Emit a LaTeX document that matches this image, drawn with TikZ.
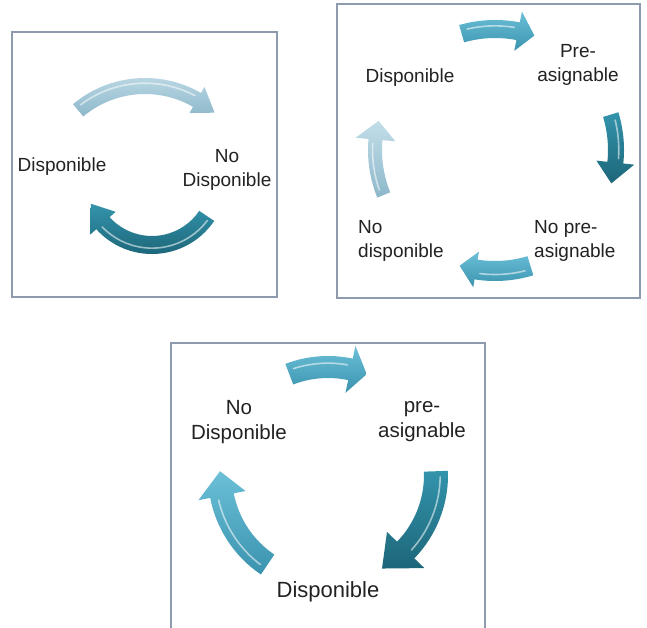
\documentclass[tikz,border=0pt]{standalone}
\usepackage{fontspec}
\setmainfont{Liberation Sans}
\usetikzlibrary{calc}

\definecolor{framegrey}{HTML}{8E9AAE}
\definecolor{textgrey}{HTML}{222222}
\definecolor{paletop}{HTML}{C2DDE8}
\definecolor{palebot}{HTML}{8DB8CA}
\definecolor{midtop}{HTML}{6CC0D8}
\definecolor{midbot}{HTML}{3A93AE}
\definecolor{darktop}{HTML}{3394AC}
\definecolor{darkbot}{HTML}{1D6679}

% bent block arrow on a circle:
% #1 centre, #2 radius, #3 tail angle, #4 head base angle, #5 half width,
% #6 head half width, #7 head length (deg), #8 shading options
\newcommand{\bentarrow}[8]{%
  \pgfmathsetmacro\ro{#2+#5}%
  \pgfmathsetmacro\ri{#2-#5}%
  \pgfmathsetmacro\ho{#2+#6}%
  \pgfmathsetmacro\hi{#2-#6}%
  \pgfmathsetmacro\tip{#4+#7}%
  \pgfmathsetmacro\gr{#2+0.35*#5}%
  \pgfmathsetmacro\ga{#3+3}%
  \pgfmathsetmacro\gb{#4-2}%
  \shade[#8] ($(#1)+(#3:\ro)$) arc[start angle=#3, end angle=#4, radius=\ro]
    -- ($(#1)+(#4:\ho)$) -- ($(#1)+(\tip:#2)$) -- ($(#1)+(#4:\hi)$)
    -- ($(#1)+(#4:\ri)$) arc[start angle=#4, end angle=#3, radius=\ri] -- cycle;
  \draw[white,opacity=.55,line width=1.6pt,line cap=round]
    ($(#1)+(\ga:\gr)$) arc[start angle=\ga, end angle=\gb, radius=\gr];
}

\begin{document}
\begin{tikzpicture}[x=1pt,y=-1pt]
  % Styles
  \tikzstyle{frame}=[draw=framegrey,line width=1.1pt,fill=white]
  \tikzstyle{label}=[inner sep=0pt,text=textgrey,font=\fontsize{19}{24}\selectfont]
  \tikzstyle{big label}=[inner sep=0pt,text=textgrey,font=\fontsize{20.5}{25}\selectfont]
  \tikzstyle{pale}=[top color=paletop,bottom color=palebot]
  \tikzstyle{mid}=[top color=midtop,bottom color=midbot]
  \tikzstyle{dark}=[top color=darktop,bottom color=darkbot]
  \useasboundingbox (0,0) rectangle (647,628);
  %frames
  \draw[frame] (12,32) rectangle (277,297);
  \draw[frame] (337,4) rectangle (640,298);
  \draw[frame] (171,630) -- (171,343) -- (485,343) -- (485,630);
  %two states
  \bentarrow{145,190}{104}{230}{300}{8}{15}{12}{pale}
  \bentarrow{152,179}{66}{34}{138}{9}{17}{20}{dark}
  \node[label] (disp1) at (62,167) {Disponible};
  \node[label,align=center] (nodisp1) at (227,170) {No\\Disponible};
  %four states
  \bentarrow{495,150}{121}{254}{281}{9}{20}{8}{mid}
  \bentarrow{495,150}{121}{-17}{6}{8}{19}{10}{dark}
  \bentarrow{495,150}{121}{73}{99}{10}{18}{8}{mid}
  \bentarrow{495,150}{120}{158}{185}{7}{20}{9}{pale}
  \node[label] (disp2) at (410,78) {Disponible};
  \node[label,align=center] (preas2) at (578,65) {Pre-\\asignable};
  \node[label,align=left,anchor=west] (nodisp2) at (358,241) {No\\disponible};
  \node[label,align=left,anchor=west] (nopreas2) at (534,241) {No pre-\\asignable};
  %three states
  \bentarrow{328,475}{108}{249}{282}{11}{24}{9}{mid}
  \bentarrow{328,475}{108}{-2}{44}{12}{26}{16}{dark}
  \bentarrow{328,475}{108}{124}{169}{12}{24}{13}{mid}
  \node[big label,align=center] (nodisp3) at (239,422) {No\\Disponible};
  \node[big label,align=center] (preas3) at (422,422) {pre-\\asignable};
  \node[big label,font=\fontsize{22}{26}\selectfont] (disp3) at (328,592) {Disponible};
\end{tikzpicture}
\end{document}
